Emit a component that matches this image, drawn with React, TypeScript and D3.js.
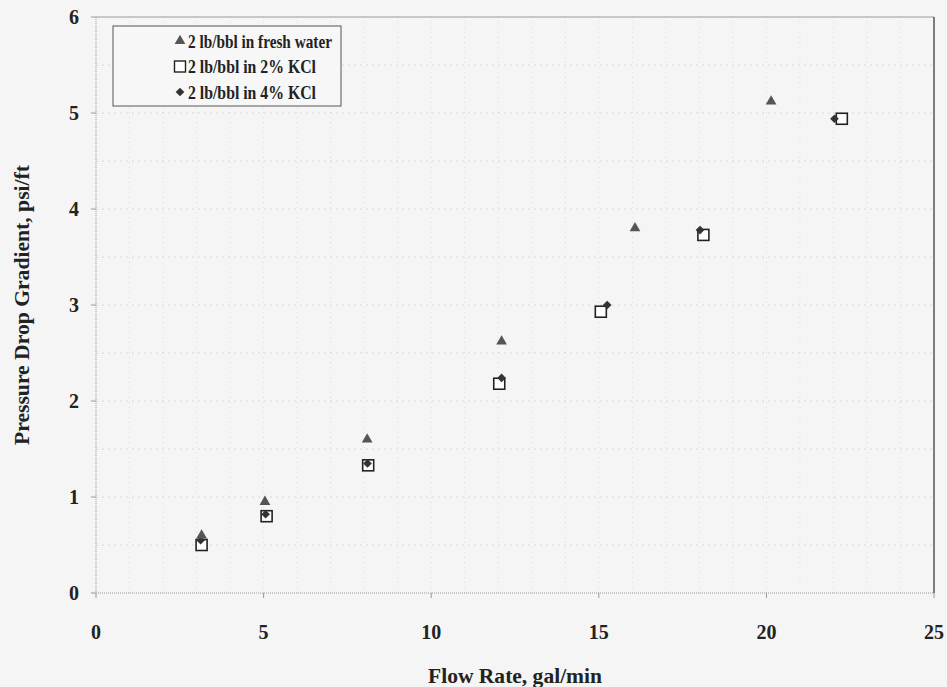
import React from "react";
import * as d3 from "d3";

const freshX = [3.15, 5.04, 8.09, 12.1, 16.08, 20.14];
const freshY = [0.6, 0.95, 1.6, 2.62, 3.8, 5.12];
const kcl2X = [3.15, 5.09, 8.12, 12.03, 15.06, 18.12, 22.25];
const kcl2Y = [0.5, 0.8, 1.33, 2.18, 2.93, 3.73, 4.94];
const kcl4X = [3.12, 5.06, 8.1, 12.1, 15.25, 18.02, 22.03];
const kcl4Y = [0.55, 0.82, 1.35, 2.24, 3.0, 3.78, 4.94];
const xTicks = [0, 5, 10, 15, 20, 25];
const yTicks = [0, 1, 2, 3, 4, 5, 6];
const legendLabels = ["2 lb/bbl in fresh water", "2 lb/bbl in 2% KCl", "2 lb/bbl in 4% KCl"];
const legendWidths = [144, 128, 128];

const W = 947, H = 687;
const M = { left: 96, right: 934, top: 17, bottom: 593 };
const font = "'Liberation Serif', 'Times New Roman', serif";

export default function App() {
  const x = d3.scaleLinear().domain([0, 25]).range([M.left, M.right]);
  const y = d3.scaleLinear().domain([0, 6]).range([M.bottom, M.top]);
  const tri = d3.symbol().type(d3.symbolTriangle).size(50)()!;
  const dia = d3.symbol().type(d3.symbolDiamond2).size(48)()!;

  const gridX = d3.range(1, 25, 1);
  const gridY = d3.range(0.5, 6, 0.5);

  return (
    <svg width={W} height={H} style={{ position: "absolute", left: 0, top: 0, background: "#f4f5f4" }}>
      <rect x={0} y={0} width={W} height={H} fill="#f4f5f4" />
      {gridX.map((v) => (
        <line key={"gx" + v} x1={x(v)} x2={x(v)} y1={M.top} y2={M.bottom} stroke="#dcdcdc" strokeWidth={1} strokeDasharray="1,4" />
      ))}
      {gridY.map((v) => (
        <line key={"gy" + v} x1={M.left} x2={M.right} y1={y(v)} y2={y(v)} stroke="#d8d8d8" strokeWidth={1} strokeDasharray="2,4" />
      ))}
      <line x1={M.left} x2={M.right} y1={M.top} y2={M.top} stroke="#9a9a9a" strokeWidth={1} />
      <line x1={M.right} x2={M.right} y1={M.top} y2={M.bottom} stroke="#555" strokeWidth={1.5} />
      <line x1={M.left} x2={M.left} y1={M.top} y2={M.bottom} stroke="#999" strokeWidth={1} strokeDasharray="1,1" />
      <line x1={M.left} x2={M.right} y1={M.bottom} y2={M.bottom} stroke="#999" strokeWidth={1} strokeDasharray="1,1" />
      {yTicks.map((v) => (
        <g key={"yt" + v}>
          <line x1={M.left - 5} x2={M.left} y1={y(v)} y2={y(v)} stroke="#999" />
          <text x={79} y={y(v)} dy="0.35em" textAnchor="end" fontFamily={font} fontWeight="bold" fontSize={20} fill="#222">{v}</text>
        </g>
      ))}
      {xTicks.map((v) => (
        <g key={"xt" + v}>
          <line x1={x(v)} x2={x(v)} y1={M.bottom} y2={M.bottom + 5} stroke="#999" />
          <text x={x(v)} y={639} textAnchor="middle" fontFamily={font} fontWeight="bold" fontSize={20} fill="#222">{v}</text>
        </g>
      ))}
      <text x={515} y={683} textAnchor="middle" fontFamily={font} fontWeight="bold" fontSize={21} fill="#222" textLength={174} lengthAdjust="spacingAndGlyphs">Flow Rate, gal/min</text>
      <text transform={`translate(29,${(M.top + M.bottom) / 2}) rotate(-90)`} textAnchor="middle" fontFamily={font} fontWeight="bold" fontSize={21} fill="#222" textLength={280} lengthAdjust="spacingAndGlyphs">Pressure Drop Gradient, psi/ft</text>

      {kcl2X.map((v, i) => (
        <rect key={"s" + i} x={x(v) - 5.5} y={y(kcl2Y[i]) - 5.5} width={11} height={11} fill="#fff" stroke="#222" strokeWidth={1.6} />
      ))}
      {kcl4X.map((v, i) => (
        <path key={"d" + i} d={dia} transform={`translate(${x(v)},${y(kcl4Y[i])})`} fill="#333" />
      ))}
      {freshX.map((v, i) => (
        <path key={"t" + i} d={tri} transform={`translate(${x(v)},${y(freshY[i])})`} fill="#555" />
      ))}

      <rect x={113} y={26} width={228} height={80} fill="#f7f7f7" stroke="#555" strokeWidth={1} />
      {legendLabels.map((lab, i) => {
        const cy = 41 + i * 25.5;
        return (
          <g key={"l" + i}>
            {i === 0 && <path d={tri} transform={`translate(180,${cy})`} fill="#555" />}
            {i === 1 && <rect x={174.5} y={cy - 5.5} width={11} height={11} fill="#fff" stroke="#222" strokeWidth={1.4} />}
            {i === 2 && <path d={dia} transform={`translate(180,${cy})`} fill="#333" />}
            <text x={188} y={cy} dy="0.35em" fontFamily={font} fontWeight="bold" fontSize={19} fill="#222" textLength={legendWidths[i]} lengthAdjust="spacingAndGlyphs">{lab}</text>
          </g>
        );
      })}
    </svg>
  );
}
